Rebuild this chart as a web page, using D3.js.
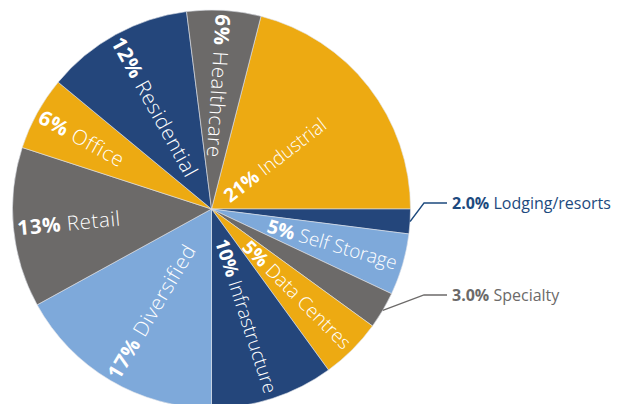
<!DOCTYPE html>
<html>
<head>
<meta charset="utf-8">
<script src="https://cdn.jsdelivr.net/npm/d3@7"></script>
<style>
  body { margin: 0; background: #fff; }
  svg text { font-family: "Open Sans", "DejaVu Sans", sans-serif; }
</style>
</head>
<body>
<div id="chart"></div>
<script>
// Sector split, clockwise from Industrial
var sectors = ["Industrial", "Lodging/resorts", "Self Storage", "Specialty", "Data Centres",
               "Infrastructure", "Diversified", "Retail", "Office", "Residential", "Healthcare"];
var shares = [21, 2, 5, 3, 5, 10, 17, 13, 6, 12, 6];
var shareLabels = ["21%", "2.0%", "5%", "3.0%", "5%", "10%", "17%", "13%", "6%", "12%", "6%"];
var colours = ["#edaa12", "#24467b", "#7ea9da", "#6c6a69", "#edaa12",
               "#24467b", "#7ea9da", "#6c6a69", "#edaa12", "#24467b", "#6c6a69"];
// small slices get a callout outside the pie
var callouts = ["Lodging/resorts", "Specialty"];

var svgWidth = 620;
var svgHeight = 404;
var cx = 211.5, cy = 209, radius = 199;

var svg = d3.select("#chart")
  .append("svg")
  .attr("width", svgWidth)
  .attr("height", svgHeight);

var pieGroup = svg.append("g")
  .attr("transform", `translate(${cx}, ${cy})`);

var data = sectors.map(function(s, i) {
  return { name: s, value: shares[i], label: shareLabels[i], colour: colours[i] };
});

var startOffset = 0.04 * 2 * Math.PI;
var pie = d3.pie()
  .value(d => d.value)
  .sort(null)
  .startAngle(startOffset)
  .endAngle(startOffset + 2 * Math.PI);

var arc = d3.arc().innerRadius(0).outerRadius(radius);
var arcs = pie(data);

pieGroup.selectAll("path")
  .data(arcs)
  .enter()
  .append("path")
  .attr("d", arc)
  .attr("fill", d => d.data.colour)
  .attr("stroke", "#dfe3ea")
  .attr("stroke-width", 0.6);

// labels inside the slices, running along the radius
var inside = arcs.filter(d => callouts.indexOf(d.data.name) < 0);

inside.forEach(function(d) {
  var mid = (d.startAngle + d.endAngle) / 2;
  var deg = mid * 180 / Math.PI % 360;
  var flip = deg > 180 || deg < 8;
  var r, anchor, rot;
  if (d.data.name == "Industrial") {
    r = 80; anchor = "middle";
  } else if (flip) {
    r = radius - 4; anchor = "start";
  } else {
    r = radius - 6; anchor = "end";
  }
  rot = flip ? deg + 90 : deg - 90;
  var x = r * Math.sin(mid), y = -r * Math.cos(mid);
  var t = pieGroup.append("text")
    .attr("transform", `translate(${x}, ${y}) rotate(${rot})`)
    .attr("text-anchor", anchor)
    .attr("dominant-baseline", "central")
    .attr("fill", "#fff")
    .attr("font-size", flip ? "20.5px" : "19px")
    .attr("letter-spacing", flip ? "0.6px" : "0px");
  t.append("tspan").attr("font-weight", 700).text(d.data.label);
  t.append("tspan").attr("font-weight", 300).text(" " + d.data.name);
});

// callouts for the two thin slices
var calloutColours = { "Lodging/resorts": "#1d4a7e", "Specialty": "#6c6a69" };
var calloutY = { "Lodging/resorts": 203, "Specialty": 295 };

arcs.filter(d => callouts.indexOf(d.data.name) >= 0).forEach(function(d) {
  var mid = (d.startAngle + d.endAngle) / 2;
  var x0 = cx + radius * Math.sin(mid), y0 = cy - radius * Math.cos(mid);
  var ly = calloutY[d.data.name];
  var col = calloutColours[d.data.name];
  svg.append("polyline")
    .attr("points", `${x0},${y0} ${424},${ly} ${447},${ly}`)
    .attr("fill", "none")
    .attr("stroke", col)
    .attr("stroke-width", 1.3);
  var t = svg.append("text")
    .attr("x", 452)
    .attr("y", ly)
    .attr("dominant-baseline", "central")
    .attr("fill", col)
    .attr("font-size", "16px");
  t.append("tspan").attr("font-weight", 700).text(d.data.label);
  t.append("tspan").attr("font-weight", 400).text(" " + d.data.name);
});
</script>
</body>
</html>
